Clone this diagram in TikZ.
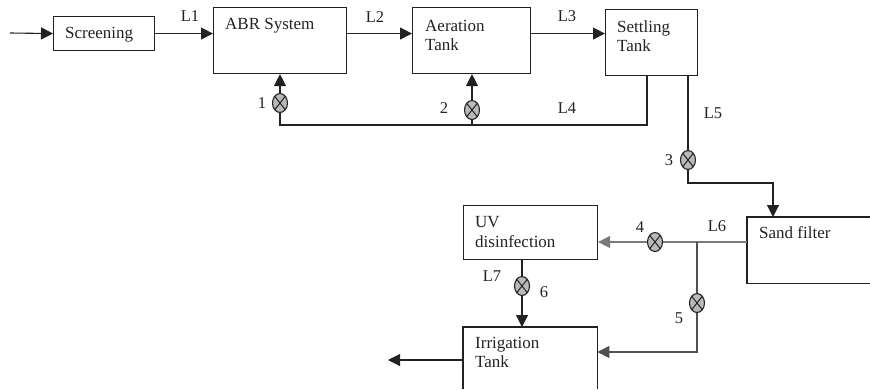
\documentclass[tikz,border=0pt]{standalone}
\usepackage{fontspec}
\setmainfont{Liberation Serif}
\usetikzlibrary{arrows.meta,shapes.geometric}
\definecolor{ink}{HTML}{222222}
\definecolor{lgray}{HTML}{7A7A7A}
\definecolor{mgray}{HTML}{505050}
\begin{document}
\begin{tikzpicture}[x=1pt,y=-1pt,
  box/.style={draw=ink, line width=1.1pt, rectangle, anchor=north west, inner sep=0pt},
  openbox/.style={rectangle, anchor=north west, inner sep=0pt},
  txt/.style={inner sep=0pt, anchor=base west, font=\fontsize{17}{19}\selectfont, text=ink},
  lab/.style={inner sep=0pt, font=\fontsize{16.5}{19}\selectfont, text=ink},
  ln/.style={draw=ink, line width=1.1pt},
  arr/.style={ln, -{Triangle[length=12pt,width=12pt]}},
  valve/.style={ellipse, draw=ink, fill=gray!55, minimum width=15pt, minimum height=19pt, inner sep=0pt, line width=1.1pt,
    path picture={\draw[ink, line width=1pt] (path picture bounding box.north west) -- (path picture bounding box.south east)
      (path picture bounding box.north east) -- (path picture bounding box.south west);}}
]
\useasboundingbox (0,0) rectangle (870,389);
\fill[white] (0,0) rectangle (870,389);

% boxes
\node[box, minimum width=101pt, minimum height=34pt] (scr) at (53,16) {};
\node[box, minimum width=133pt, minimum height=66pt] (abr) at (213,7) {};
\node[box, minimum width=118pt, minimum height=66pt] (aer) at (412,7) {};
\node[box, minimum width=92pt, minimum height=66pt] (set) at (605,9) {};
\node[openbox, minimum width=123pt, minimum height=66pt] (sand) at (747,217) {};
\draw[ln] (sand.north east) -- (sand.north west) -- (sand.south west) -- (sand.south east);
\node[box, minimum width=134pt, minimum height=54pt] (uv) at (463,205) {};
\node[openbox, minimum width=134pt, minimum height=62pt] (irr) at (463,327) {};
\draw[ln] (irr.south west) -- (irr.north west) -- (irr.north east) -- (irr.south east);

% box texts
\node[txt] (scrt) at (65,38) {Screening};
\node[txt] (abrt) at (225,29) {ABR System};
\node[txt] (aert1) at (425,31) {Aeration};
\node[txt] (aert2) at (425,50) {Tank};
\node[txt] (sett1) at (617,32) {Settling};
\node[txt] (sett2) at (617,51) {Tank};
\node[txt] (sandt) at (759,238) {Sand filter};
\node[txt] (uvt1) at (475,227) {UV};
\node[txt] (uvt2) at (475,247) {disinfection};
\node[txt] (irrt1) at (475,348) {Irrigation};
\node[txt] (irrt2) at (475,367) {Tank};

% valves
\node[valve] (v1) at (280,103) {};
\node[valve] (v2) at (472,110) {};
\node[valve] (v3) at (688,160) {};
\node[valve] (v4) at (655,242) {};
\node[valve] (v5) at (697,303) {};
\node[valve] (v6) at (522,286) {};

% labels
\node[lab] (l1) at (190,16) {L1};
\node[lab] (l2) at (375,17) {L2};
\node[lab] (l3) at (567,16) {L3};
\node[lab] (l4) at (567,108) {L4};
\node[lab] (l5) at (713,113) {L5};
\node[lab] (l6) at (717,226) {L6};
\node[lab] (l7) at (492,276) {L7};
\node[lab] (n1) at (262,103) {1};
\node[lab] (n2) at (444,108) {2};
\node[lab] (n3) at (669,160) {3};
\node[lab] (n4) at (640,227) {4};
\node[lab] (n5) at (679,318) {5};
\node[lab] (n6) at (544,292) {6};

% coordinates
\coordinate (in) at (10,33);
\coordinate (c4) at (647,125);
\coordinate (c5) at (688,183);
\coordinate (c5b) at (773,183);
\coordinate (j) at (697,242);
\coordinate (c6) at (697,352);
\coordinate (out) at (388,360);

% main line
\draw[arr] (in) -- (scr.west);
\draw[arr] (scr.east) -- (scr.east -| abr.west);
\draw[arr] (abr.east |- scr.east) -- (aer.west |- scr.east);
\draw[arr] (aer.east |- scr.east) -- (set.west |- scr.east);

% recycle L4
\draw[ln] (set.south -| c4) -- (c4) -- (c4 -| v1) -- (v1.south);
\draw[arr] (v1.north) -- (v1 |- abr.south);
\draw[ln] (v2 |- c4) -- (v2.south);
\draw[arr] (v2.north) -- (v2 |- aer.south);

% L5
\draw[ln] (set.south -| v3) -- (v3.north);
\draw[arr] (v3.south) -- (c5) -- (c5b) -- (c5b |- sand.north);

% L6
\draw[ln, draw=lgray] (sand.west |- v4) -- (v4.east);
\draw[arr, draw=lgray] (v4.west) -- (v4 -| uv.east);
\draw[ln, draw=mgray] (j) -- (v5.north);
\draw[arr, draw=mgray] (v5.south) -- (c6) -- (c6 -| irr.east);

% L7
\draw[ln] (uv.south -| v6) -- (v6.north);
\draw[arr] (v6.south) -- (v6 |- irr.north);

% output
\draw[arr] (irr.west |- out) -- (out);
\end{tikzpicture}
\end{document}
